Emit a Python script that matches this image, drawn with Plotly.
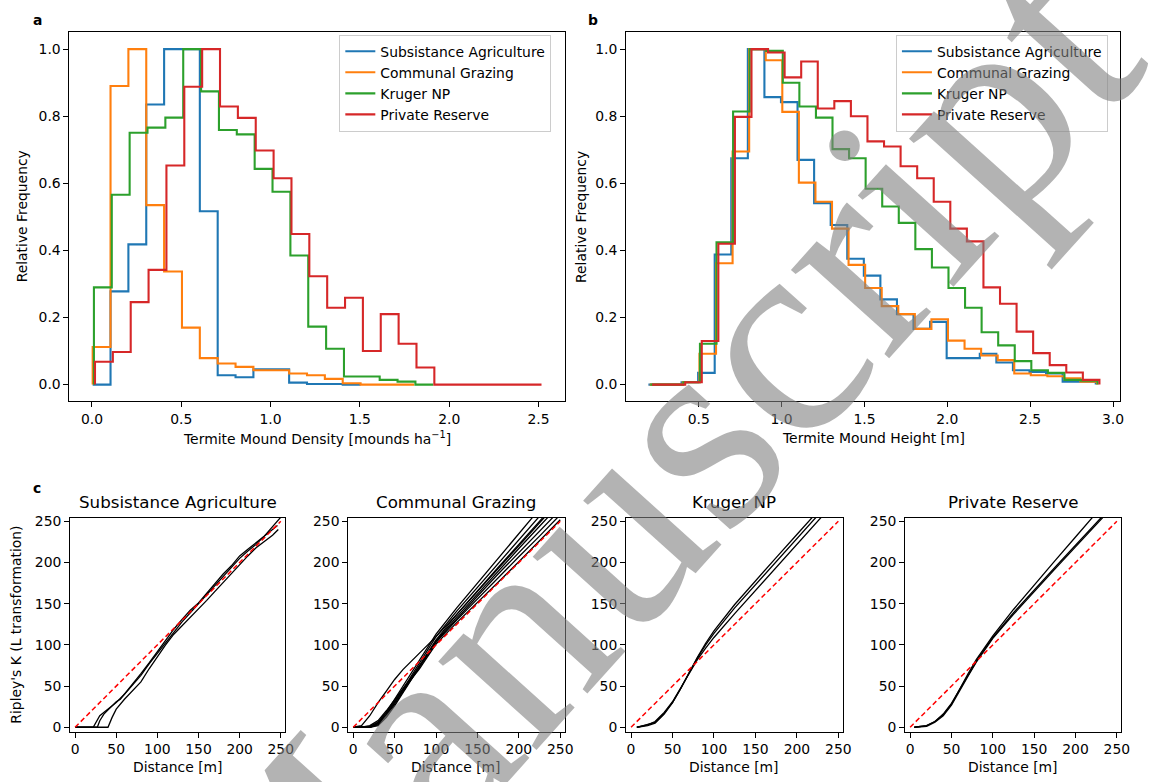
import plotly.graph_objects as go

W, H = 1150, 782
FONT = "DejaVu Sans"
TICK = 13.9

NAMES = ["Subsistance Agriculture", "Communal Grazing", "Kruger NP", "Private Reserve"]
COLORS = ["#1f77b4", "#ff7f0e", "#2ca02c", "#d62728"]

# ---------------- Panel a: termite mound density (relative frequency) ----------------
a_bin_width = 0.1
a_sa_start = 0.004
a_sa = [0, 0.278, 0.418, 0.835, 1.0, 1.0, 0.517, 0.028, 0.022, 0.046, 0.046, 0.006, 0.002, 0.002, 0.0]
a_cg_start = 0.004
a_cg = [0.112, 0.89, 1.0, 0.535, 0.337, 0.17, 0.079, 0.063, 0.053, 0.043, 0.043, 0.033, 0.028, 0.017, 0.004, 0, 0, 0]
a_kr_start = 0.011
a_kr = [0.29, 0.566, 0.751, 0.766, 0.796, 1.0, 0.874, 0.759, 0.746, 0.643, 0.575, 0.385, 0.173, 0.107, 0.024, 0.024, 0.014, 0.009, 0.0]
a_pr_start = 0.017
a_pr = [0.068, 0.097, 0.246, 0.342, 0.653, 0.888, 1.0, 0.829, 0.795, 0.698, 0.615, 0.449, 0.323, 0.229, 0.259, 0.10, 0.21, 0.122, 0.051, 0, 0, 0, 0, 0, 0]

# ---------------- Panel b: termite mound height (relative frequency) ----------------
b_bin_width = 0.1
b_sa_start = 0.196
b_sa = [0, 0, 0.007, 0.035, 0.388, 0.675, 1.0, 0.857, 0.842, 0.67, 0.541, 0.476, 0.375, 0.325, 0.254, 0.21, 0.166, 0.187, 0.079, 0.079, 0.092, 0.066, 0.043, 0.038, 0.033, 0.009, 0.009]
b_cg_start = 0.204
b_cg = [0, 0, 0.007, 0.092, 0.362, 0.695, 1.0, 0.967, 0.813, 0.602, 0.545, 0.465, 0.357, 0.288, 0.234, 0.21, 0.166, 0.195, 0.131, 0.107, 0.087, 0.073, 0.033, 0.028, 0.025, 0.019, 0.009]
b_kr_start = 0.207
b_kr = [0, 0, 0.007, 0.122, 0.424, 0.814, 1.0, 0.995, 0.9, 0.829, 0.796, 0.702, 0.675, 0.584, 0.531, 0.482, 0.404, 0.349, 0.288, 0.229, 0.156, 0.117, 0.07, 0.043, 0.035, 0.014, 0.012]
b_pr_start = 0.218
b_pr = [0, 0, 0.007, 0.13, 0.42, 0.798, 1.0, 0.99, 0.916, 0.963, 0.823, 0.845, 0.80, 0.725, 0.71, 0.651, 0.615, 0.545, 0.465, 0.427, 0.29, 0.241, 0.158, 0.094, 0.058, 0.036, 0.014]

# ---------------- Panel c: Ripley's K (L transformation) ----------------
csr_d = [0, 250]
csr_L = [0, 250]

# Subsistance Agriculture
sa_d1 = [0, 22, 30, 40, 50, 60, 70, 80, 90, 100, 110, 120, 130, 140, 150, 160, 170, 180, 190, 200, 210, 220, 230, 240, 250]
sa_L1 = [0, 0, 14, 22, 30, 40, 51, 63, 77, 90, 103, 116, 128, 139, 150, 162, 173, 183, 194, 205, 214, 222, 232, 243, 255]
sa_d2 = [0, 27, 30, 35, 45, 50, 55, 60, 70, 80, 90, 100, 110, 120, 130, 140, 150, 160, 170, 180, 190, 200, 210, 220, 230, 240, 246]
sa_L2 = [0, 0, 8, 16, 26, 31, 34, 40, 52, 65, 78, 92, 106, 119, 131, 142, 151, 163, 174, 186, 196, 208, 216, 224, 231, 240, 245]
sa_d3 = [0, 40, 45, 50, 60, 70, 80, 90, 100, 110, 120, 130, 140, 150, 160, 170, 180, 190, 200, 210, 220, 230, 240, 247]
sa_L3 = [0, 0, 12, 22, 34, 44, 55, 71, 86, 100, 113, 123, 133, 144, 154, 165, 176, 187, 198, 208, 218, 226, 233, 240]

# Communal Grazing
cg_d = [0, 10, 20, 30, 40, 50, 60, 70, 80, 90, 100, 125, 150, 175, 200, 225, 250]
cg_L1 = [0, 2, 14, 30, 44, 58, 70, 80, 90, 100, 110, 137, 165, 193, 220, 248, 276]
cg_L2 = [0, 0, 0, 6, 18, 34, 50, 66, 82, 98, 113, 145, 175, 204, 235, 265, 295]
cg_L3 = [0, 0, 0, 4, 15, 30, 46, 62, 79, 95, 110, 141, 170, 198, 228, 256, 285]
cg_L4 = [0, 0, 1, 5, 16, 30, 44, 59, 75, 91, 106, 137, 166, 194, 222, 250, 278]
cg_L5 = [0, 0, 0, 2, 12, 26, 42, 58, 74, 90, 105, 134, 162, 190, 217, 244, 271]
cg_L6 = [0, 0, 2, 8, 20, 34, 47, 60, 74, 89, 104, 132, 159, 186, 212, 238, 264]
cg_L7 = [0, 0, 0, 3, 14, 28, 43, 57, 72, 88, 103, 130, 156, 181, 207, 232, 258]
cg_L8 = [0, 0, 1, 6, 18, 32, 45, 58, 71, 86, 101, 127, 151, 176, 201, 226, 252]

# Kruger NP
kr_d = [7, 20, 29, 40, 50, 60, 70, 80, 90, 100, 125, 150, 175, 200, 225, 250]
kr_L1 = [0, 3, 6, 17, 30, 47, 66, 85, 102, 117, 149, 178, 206, 234, 262, 290]
kr_L2 = [0, 2, 5, 16, 30, 47, 66, 84, 100, 114, 145, 173, 201, 229, 257, 285]
kr_L3 = [0, 3, 7, 18, 31, 48, 66, 82, 96, 109, 138, 166, 194, 222, 250, 278]

# Private Reserve
pr_d = [5, 20, 30, 40, 50, 60, 70, 80, 90, 100, 125, 150, 175, 200, 225, 250]
pr_L1 = [0, 2, 7, 15, 28, 47, 65, 82, 97, 111, 143, 173, 202, 231, 260, 289]
pr_L2 = [0, 2, 7, 16, 29, 46, 63, 80, 95, 109, 139, 167, 194, 221, 248, 275]
pr_L3 = [0, 1, 6, 14, 27, 45, 62, 79, 94, 108, 137, 165, 192, 219, 246, 273]

C_TITLES = ["Subsistance Agriculture", "Communal Grazing", "Kruger NP", "Private Reserve"]
c_lines = [
    [(sa_d1, sa_L1), (sa_d2, sa_L2), (sa_d3, sa_L3)],
    [(cg_d, cg_L1), (cg_d, cg_L2), (cg_d, cg_L3), (cg_d, cg_L4),
     (cg_d, cg_L5), (cg_d, cg_L6), (cg_d, cg_L7), (cg_d, cg_L8)],
    [(kr_d, kr_L1), (kr_d, kr_L2), (kr_d, kr_L3)],
    [(pr_d, pr_L1), (pr_d, pr_L2), (pr_d, pr_L3)],
]


def step_xy(start, width, heights):
    edges = [start + i * width for i in range(len(heights) + 1)]
    x = [edges[0]] + edges[:-1] + [edges[-1]]
    y = [0] + list(heights) + [0]
    return x, y


fig = go.Figure()

a_series = [(a_sa_start, a_sa), (a_cg_start, a_cg), (a_kr_start, a_kr), (a_pr_start, a_pr)]
b_series = [(b_sa_start, b_sa), (b_cg_start, b_cg), (b_kr_start, b_kr), (b_pr_start, b_pr)]

for i, (st, h) in enumerate(a_series):
    x, y = step_xy(st, a_bin_width, h)
    fig.add_trace(go.Scatter(x=x, y=y, mode="lines", line_shape="hv", name=NAMES[i],
                             line=dict(color=COLORS[i], width=2.1), xaxis="x", yaxis="y",
                             legend="legend"))
for i, (st, h) in enumerate(b_series):
    x, y = step_xy(st, b_bin_width, h)
    fig.add_trace(go.Scatter(x=x, y=y, mode="lines", line_shape="hv", name=NAMES[i],
                             line=dict(color=COLORS[i], width=2.1), xaxis="x2", yaxis="y2",
                             legend="legend2"))

for k, lines in enumerate(c_lines):
    xa = "x%d" % (k + 3)
    ya = "y%d" % (k + 3)
    for d, L in lines:
        fig.add_trace(go.Scatter(x=d, y=L, mode="lines", line=dict(color="black", width=1.3),
                                 xaxis=xa, yaxis=ya, showlegend=False))
    fig.add_trace(go.Scatter(x=csr_d, y=csr_L, mode="lines",
                             line=dict(color="red", width=1.5, dash="5px,3px"),
                             xaxis=xa, yaxis=ya, showlegend=False))


def px(v):
    return v / W


def py(v):
    return 1 - v / H


def axis(domain, rng, tickvals, anchor, fmt=None):
    d = dict(domain=domain, range=rng, tickvals=tickvals, anchor=anchor,
             showline=True, mirror=True, linecolor="black", linewidth=1,
             ticks="outside", ticklen=5, tickwidth=1, tickcolor="black",
             showgrid=False, zeroline=False,
             tickfont=dict(family=FONT, size=TICK, color="black"))
    if fmt:
        d["tickformat"] = fmt
    return d


top_y = [py(401), py(27.7)]
bot_y = [py(735), py(519)]
c_x = [(70.7, 287.3), (351, 569), (631, 849.3), (912.3, 1130)]

legend_style = dict(xanchor="left", yanchor="top",
                    bgcolor="rgba(255,255,255,0.8)", bordercolor="#cccccc", borderwidth=1,
                    font=dict(family=FONT, size=TICK, color="black"))

layout = dict(
    width=W, height=H, margin=dict(l=0, r=0, t=0, b=0),
    paper_bgcolor="white", plot_bgcolor="white",
    font=dict(family=FONT, size=TICK, color="black"),
    xaxis=axis([px(70), px(569)], [-0.126, 2.646], [0, 0.5, 1.0, 1.5, 2.0, 2.5], "y", ".1f"),
    yaxis=axis(top_y, [-0.05, 1.05], [0, 0.2, 0.4, 0.6, 0.8, 1.0], "x", ".1f"),
    xaxis2=axis([px(631), px(1129.3)], [0.061, 3.045], [0.5, 1.0, 1.5, 2.0, 2.5, 3.0], "y2", ".1f"),
    yaxis2=axis(top_y, [-0.05, 1.05], [0, 0.2, 0.4, 0.6, 0.8, 1.0], "x2", ".1f"),
    legend=dict(x=px(342), y=py(30), **legend_style),
    legend2=dict(x=px(903), y=py(30), **legend_style),
)
for k, (x0, x1) in enumerate(c_x):
    layout["xaxis%d" % (k + 3)] = axis([px(x0), px(x1)], [-6, 255.2], [0, 50, 100, 150, 200, 250], "y%d" % (k + 3))
    layout["yaxis%d" % (k + 3)] = axis(bot_y, [-5.2, 254], [0, 50, 100, 150, 200, 250], "x%d" % (k + 3))

fig.update_layout(**layout)

ann = []


def text(x, y, s, size=TICK, angle=0, bold=False):
    ann.append(dict(x=px(x), y=py(y), xref="paper", yref="paper", text=("<b>%s</b>" % s) if bold else s,
                    showarrow=False, textangle=angle, xanchor="center", yanchor="middle",
                    font=dict(family=FONT, size=size, color="black")))


text(319.5, 438, "Termite Mound Density [mounds ha<sup>−1</sup>]")
text(880, 438, "Termite Mound Height [m]")
text(22, 214, "Relative Frequency", angle=-90)
text(585, 214, "Relative Frequency", angle=-90)
text(16, 627, "Ripley's K (L transformation)", angle=-90)
for k, (x0, x1) in enumerate(c_x):
    text((x0 + x1) / 2, 771, "Distance [m]")
    text((x0 + x1) / 2, 503, C_TITLES[k], size=16.7)
text(38, 15, "a", bold=True)
text(598, 15, "b", bold=True)
text(37, 489, "c", bold=True)

# watermark
ann.append(dict(x=px(648), y=py(488), xref="paper", yref="paper", text="Manuscript",
                showarrow=False, textangle=-48, xanchor="center", yanchor="middle",
                font=dict(family="Liberation Serif", size=288, color="rgba(128,128,128,0.6)")))

fig.update_layout(annotations=ann)
fig.write_html("out.html", config={"displayModeBar": False},
               post_script="document.body.style.margin='0px';")
